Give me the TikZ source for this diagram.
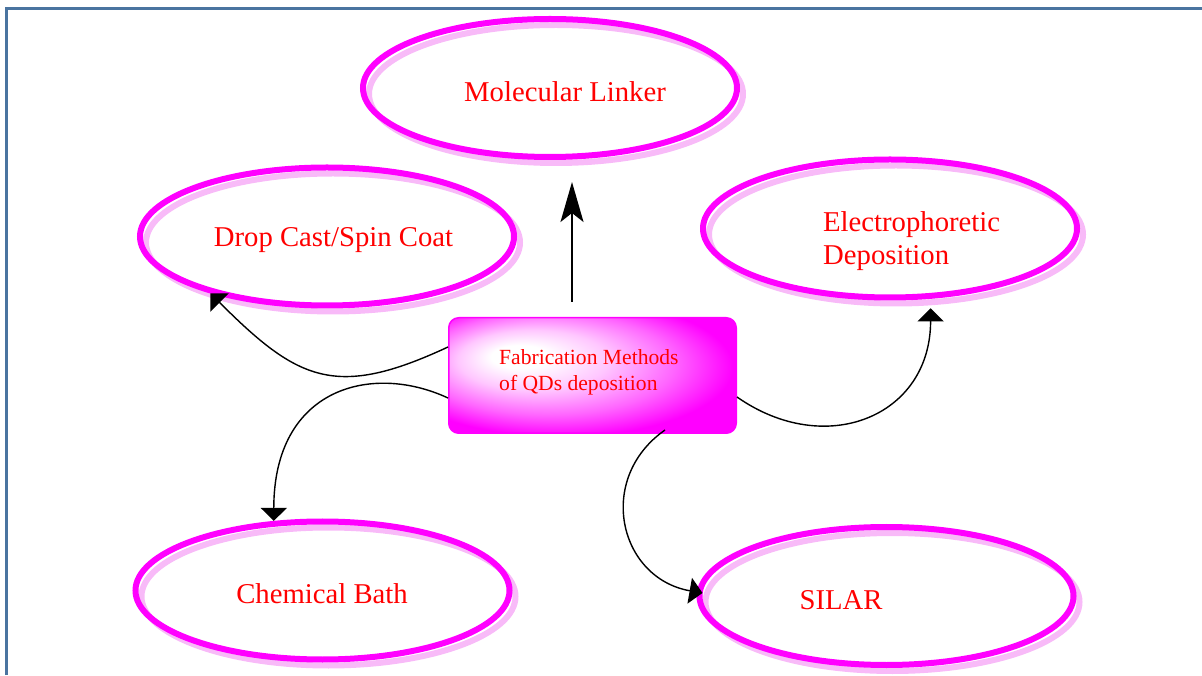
\documentclass[tikz,border=0pt]{standalone}
\usepackage{fontspec}
\setmainfont{Liberation Serif}
\usetikzlibrary{arrows.meta,shapes.geometric}
\definecolor{frameblue}{RGB}{74,116,160}
\definecolor{shadowpink}{RGB}{248,186,248}
\definecolor{mag}{RGB}{255,0,255}
\definecolor{txtred}{RGB}{255,0,0}
\pgfdeclareradialshading{qdglow}{\pgfpoint{-14bp}{9bp}}{%
  color(0bp)=(white); color(5bp)=(white); color(13bp)=(mag!22);
  color(22bp)=(mag!60); color(30bp)=(mag); color(50bp)=(mag)}
\tikzset{
  method/.style={ellipse, draw=mag, line width=6pt, minimum width=374pt,
    minimum height=138pt, inner sep=0pt,
    preaction={draw=shadowpink, line width=6pt,
      transform canvas={xshift=6pt,yshift=-6pt}}},
  centerbox/.style={rectangle, rounded corners=10pt, draw=mag, line width=1.5pt,
    shading=qdglow, minimum width=287.5pt, minimum height=115.5pt, inner sep=0pt},
  lbl/.style={text=txtred, font=\fontsize{28.7}{33.3}\selectfont, inner sep=0pt},
  boxlbl/.style={text=txtred, font=\fontsize{21.6}{25.7}\selectfont, inner sep=0pt},
  curvearr/.style={draw=black, line width=1.4pt, -{Triangle[length=13pt,width=26pt]}},
  uparr/.style={draw=black, line width=1.8pt, -{Stealth[length=40pt,width=23pt,inset=9pt]}},
}
\begin{document}
\begin{tikzpicture}[x=1pt,y=1pt]
\useasboundingbox (0,0) rectangle (1202,675);
% frame
\draw[frameblue, line width=3pt] (6.5,0) -- (6.5,666) -- (1202,666);
% ellipses
\node[method] (mol) at (550,587) {};
\node[method] (drop) at (327,438.5) {};
\node[method] (elec) at (890,446.5) {};
\node[method] (chem) at (322.5,84.5) {};
\node[method] (silar) at (886.5,79) {};
% centre box
\node[centerbox] (box) at (592.5,299.5) {};
% connectors
\draw[uparr] ([xshift=-20.5pt,yshift=15pt]box.north) -- ([xshift=22pt,yshift=-22pt]mol.south);
\draw[curvearr] ([yshift=28.5pt]box.west) to[out=205,in=-45,looseness=1.3] (drop.206);
\draw[curvearr] ([yshift=-22.5pt]box.west) to[out=155,in=90,out looseness=1.0,in looseness=1.6] (chem.125);
\draw[curvearr] ([yshift=-21.5pt]box.east) to[out=-35,in=-90,looseness=1.3] ([yshift=-9.5pt]elec.-60);
\draw[curvearr] ([xshift=72.5pt,yshift=4pt]box.south) to[out=215,in=170,looseness=1.3] ([xshift=6pt,yshift=3pt]silar.west);
% labels
\node[lbl, anchor=base] (tmol) at (565,573.3) {Molecular Linker};
\node[lbl, anchor=base] (tdrop) at (333.5,428.3) {Drop Cast/Spin Coat};
\node[lbl, anchor=base west, align=left] (telec) at (823,410) {Electrophoretic\\Deposition};
\node[lbl, anchor=base] (tchem) at (322,71.7) {Chemical Bath};
\node[lbl, anchor=base] (tsilar) at (841,66) {SILAR};
\node[boxlbl, anchor=base west, align=left] (tbox) at (499,284.3) {Fabrication Methods\\of QDs deposition};
\end{tikzpicture}
\end{document}
